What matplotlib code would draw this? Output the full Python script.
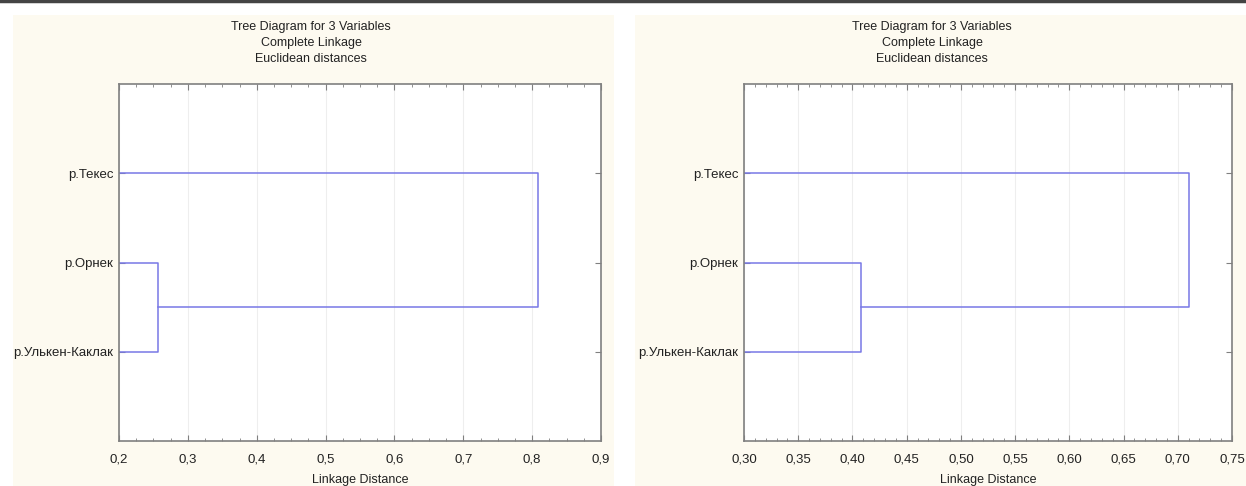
import matplotlib
matplotlib.use("Agg")
import matplotlib.pyplot as plt
from matplotlib.patches import Rectangle
from matplotlib.lines import Line2D
from matplotlib.ticker import MultipleLocator, FuncFormatter

# data: leaves bottom -> top, merge heights for (Орнек+Улькен-Каклак) and (+Текес)
leaves = ["р.Улькен-Каклак", "р.Орнек", "р.Текес"]
left_heights = [0.257, 0.808]
right_heights = [0.408, 0.710]

left_xlim = (0.2, 0.9)
right_xlim = (0.30, 0.75)

W, H = 1246, 486
plt.rcParams["font.family"] = ["Liberation Sans", "DejaVu Sans"]

fig = plt.figure(figsize=(W / 100, H / 100), dpi=100, facecolor="white")

# cream panels and the dark line on top
for x0, x1 in [(13, 614), (635, 1246)]:
    fig.patches.append(Rectangle((x0 / W, 0), (x1 - x0) / W, (H - 15) / H,
                                 transform=fig.transFigure, facecolor="#fdfaf0",
                                 edgecolor="none", zorder=-5))
fig.lines.append(Line2D([0, 1], [1 - 1.5 / H, 1 - 1.5 / H], transform=fig.transFigure,
                        color="#444444", linewidth=2.5, zorder=-5))


def draw_tree(px0, px1, heights, xlim, major, minor, fmt, title_cx):
    top, bottom = 84, 441
    ax = fig.add_axes([px0 / W, 1 - bottom / H, (px1 - px0) / W, (bottom - top) / H])
    ax.set_facecolor("white")
    col = "#7878e6"
    h1, h2 = heights
    x0 = 0
    ypos = list(range(1, len(leaves) + 1))
    # first cluster
    ax.plot([x0, h1, h1, x0], [ypos[1], ypos[1], ypos[0], ypos[0]], color=col, lw=1.1)
    mid = (ypos[0] + ypos[1]) / 2
    ax.plot([h1, h2, h2, x0], [mid, mid, ypos[2], ypos[2]], color=col, lw=1.1)
    ax.set_xlim(*xlim)
    ax.set_ylim(0, len(leaves) + 1)
    ax.set_yticks(ypos)
    ax.set_yticklabels(leaves)
    ax.xaxis.set_major_locator(MultipleLocator(major))
    ax.xaxis.set_minor_locator(MultipleLocator(minor))
    ax.xaxis.set_major_formatter(FuncFormatter(lambda v, p: fmt.format(v).replace(".", ",")))
    ax.tick_params(axis="both", which="both", direction="in", top=True, right=True,
                   color="#808080", labelsize=9.5, labelcolor="#222222")
    ax.tick_params(which="major", length=4, pad=9)
    ax.tick_params(which="minor", length=2)
    ax.tick_params(axis="y", pad=4)
    ax.grid(axis="x", which="major", color="#eeeeee", lw=0.8)
    ax.set_axisbelow(True)
    for s in ax.spines.values():
        s.set_color("#808080")
        s.set_linewidth(1.2)
    ax.set_xlabel("Linkage Distance", fontsize=9, labelpad=6, color="#222222")
    fig.text(title_cx / W, 1 - 21 / H,
             "Tree Diagram for 3 Variables\nComplete Linkage\nEuclidean distances",
             ha="center", va="top", fontsize=9, linespacing=1.45, color="#222222")
    return ax


draw_tree(119, 601, left_heights, left_xlim, 0.1, 0.025, "{:.1f}", 311)
draw_tree(744, 1232, right_heights, right_xlim, 0.05, 0.01, "{:.2f}", 932)

fig.savefig("out.png", dpi=100, facecolor="white")
